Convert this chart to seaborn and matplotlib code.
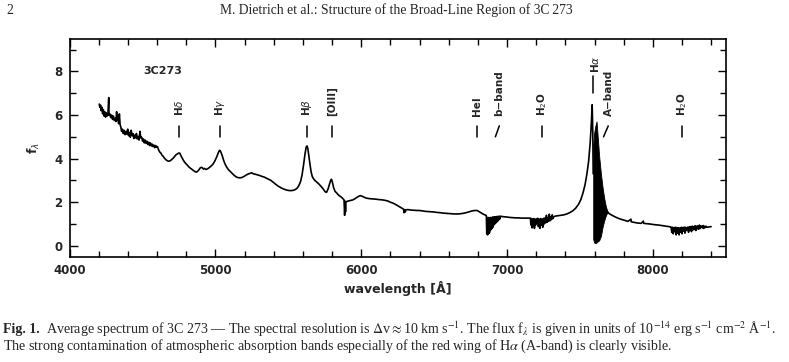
import pandas as pd
import matplotlib.pyplot as plt
import seaborn as sns
from matplotlib.ticker import MultipleLocator

# Continuum + emission lines of 3C 273 (wavelength in A, flux in 1e-14 erg/s/cm2/A)
wave = [4203, 4207, 4212, 4216, 4221, 4226, 4231, 4236, 4241, 4246, 4251, 4256, 4262, 4268, 4270,
        4276, 4282, 4288, 4294, 4300, 4306, 4312, 4318, 4322, 4326, 4331, 4336, 4341, 4346, 4351,
        4356, 4362, 4368, 4374, 4380, 4386, 4392, 4398, 4404, 4410, 4416, 4422, 4428, 4434, 4440,
        4446, 4452, 4458, 4464, 4470, 4476, 4482, 4488, 4494, 4500, 4506, 4512, 4518, 4524, 4530,
        4536, 4542, 4548, 4554, 4560, 4566, 4572, 4578, 4584, 4590, 4596, 4602, 4610, 4618, 4626,
        4634, 4642, 4650, 4660, 4670, 4680, 4690, 4700, 4710, 4720, 4730, 4740, 4750, 4756, 4762,
        4770, 4780, 4790, 4800, 4810, 4820, 4830, 4840, 4850, 4860, 4870, 4878, 4886, 4894, 4902,
        4910, 4918, 4926, 4934, 4942, 4950, 4960, 4970, 4980, 4990, 5000, 5010, 5020, 5028, 5034,
        5040, 5048, 5056, 5066, 5076, 5088, 5100, 5115, 5130, 5145, 5160, 5175, 5190, 5205, 5220,
        5235, 5248, 5260, 5275, 5290, 5305, 5320, 5335, 5350, 5365, 5380, 5395, 5410, 5425, 5440,
        5455, 5470, 5485, 5500, 5515, 5530, 5545, 5560, 5572, 5584, 5594, 5604, 5614, 5622, 5628,
        5634, 5640, 5648, 5656, 5664, 5672, 5682, 5695, 5710, 5725, 5740, 5752, 5762, 5772, 5782,
        5790, 5796, 5802, 5810, 5820, 5832, 5845, 5860, 5872, 5882, 5886, 5889, 5892, 5895, 5910,
        5925, 5940, 5955, 5970, 5985, 5995, 6010, 6025, 6040, 6060, 6080, 6100, 6120, 6140, 6160,
        6180, 6200, 6220, 6240, 6260, 6280, 6290, 6294, 6298, 6302, 6306, 6320, 6340, 6360, 6380,
        6400, 6420, 6440, 6460, 6480, 6500, 6520, 6540, 6560, 6580, 6600, 6620, 6640, 6660, 6680,
        6700, 6720, 6740, 6760, 6780, 6795, 6810, 6825, 6840, 6855, 6960, 6980, 7000, 7020, 7040,
        7060, 7080, 7100, 7120, 7140, 7155, 7330, 7350, 7370, 7390, 7410, 7430, 7450, 7470, 7490,
        7505, 7520, 7535, 7548, 7560, 7570, 7578, 7584, 7588, 7591,
        7690, 7700, 7720, 7740, 7760, 7780, 7800, 7830, 7850, 7852, 7860, 7890, 7920, 7935, 7937,
        7950, 7980, 8010, 8040, 8070, 8100, 8120, 8380, 8400]
flux = [6.50, 6.35, 6.45, 6.20, 6.35, 6.05, 6.25, 5.95, 6.15, 5.90, 6.10, 5.95, 6.00, 6.80, 5.98,
        6.05, 5.88, 6.00, 5.80, 5.95, 5.75, 5.85, 5.70, 6.15, 5.75, 5.95, 5.60, 6.05, 5.55, 5.45,
        5.25, 5.35, 5.15, 5.30, 5.10, 5.25, 5.12, 5.35, 5.05, 5.20, 4.98, 5.30, 5.05, 5.15, 4.92,
        5.08, 4.95, 5.15, 4.90, 5.02, 4.85, 5.25, 4.95, 4.98, 4.80, 4.90, 4.72, 4.85, 4.70, 4.80,
        4.65, 4.75, 4.60, 4.72, 4.58, 4.66, 4.55, 4.62, 4.50, 4.60, 4.52, 4.55, 4.40, 4.30, 4.25,
        4.15, 4.10, 4.02, 3.95, 3.90, 3.88, 3.90, 3.96, 4.02, 4.10, 4.18, 4.22, 4.26, 4.24, 4.15,
        4.05, 3.92, 3.82, 3.75, 3.68, 3.60, 3.55, 3.50, 3.45, 3.40, 3.38, 3.42, 3.48, 3.56, 3.60,
        3.58, 3.52, 3.55, 3.50, 3.52, 3.55, 3.60, 3.66, 3.72, 3.82, 3.95, 4.10, 4.28, 4.38, 4.35,
        4.25, 4.10, 3.92, 3.75, 3.62, 3.50, 3.42, 3.32, 3.22, 3.15, 3.12, 3.12, 3.16, 3.22, 3.28,
        3.32, 3.35, 3.30, 3.28, 3.25, 3.22, 3.18, 3.15, 3.10, 3.05, 3.00, 2.92, 2.84, 2.76, 2.70,
        2.64, 2.60, 2.56, 2.54, 2.53, 2.54, 2.57, 2.64, 2.76, 2.95, 3.25, 3.70, 4.20, 4.52, 4.58,
        4.45, 4.15, 3.75, 3.40, 3.18, 3.08, 3.00, 2.92, 2.83, 2.72, 2.60, 2.48, 2.45, 2.60, 2.82,
        3.00, 3.05, 2.92, 2.68, 2.50, 2.42, 2.32, 2.25, 2.18, 2.10, 1.40, 2.05, 1.55, 2.02, 2.05,
        2.08, 2.10, 2.15, 2.22, 2.28, 2.30, 2.26, 2.21, 2.18, 2.16, 2.15, 2.14, 2.12, 2.11, 2.09,
        2.06, 2.00, 1.95, 1.88, 1.80, 1.72, 1.68, 1.52, 1.66, 1.55, 1.65, 1.66, 1.64, 1.63, 1.62,
        1.62, 1.60, 1.58, 1.57, 1.56, 1.55, 1.53, 1.52, 1.50, 1.49, 1.48, 1.47, 1.46, 1.46, 1.47,
        1.49, 1.52, 1.56, 1.60, 1.62, 1.62, 1.56, 1.50, 1.44, 1.40, 1.35, 1.33, 1.32, 1.30, 1.29,
        1.28, 1.28, 1.27, 1.27, 1.27, 1.27, 1.36, 1.38, 1.40, 1.42, 1.46, 1.52, 1.60, 1.72, 1.90,
        2.10, 2.40, 2.80, 3.30, 3.90, 4.70, 5.60, 6.47, 5.20, 3.30,
        1.55, 1.48, 1.40, 1.33, 1.27, 1.22, 1.18, 1.12, 1.22, 1.10, 1.09, 1.05, 1.03, 1.13, 1.03,
        1.02, 1.00, 0.97, 0.95, 0.92, 0.89, 0.87, 0.86, 0.88]

# telluric absorption bands (B-band, H2O, H2O)
bband_wave = [6858, 6861, 6864, 6867, 6870, 6873, 6876, 6879, 6882, 6885, 6888, 6891, 6894, 6897,
              6900, 6903, 6906, 6909, 6912, 6916, 6920, 6924, 6928, 6932, 6936, 6940, 6945, 6950, 6955]
bband_flux = [1.38, 0.55, 1.30, 0.50, 1.25, 0.60, 1.30, 0.58, 1.25, 0.70, 1.30, 0.75, 1.28, 0.80,
              1.32, 0.85, 1.30, 0.95, 1.33, 1.00, 1.32, 1.05, 1.34, 1.10, 1.35, 1.15, 1.36, 1.22, 1.36]
h2o_a_wave = [7160, 7164, 7168, 7172, 7176, 7180, 7184, 7188, 7192, 7196, 7200, 7205, 7210, 7215,
              7220, 7225, 7230, 7235, 7240, 7245, 7250, 7255, 7260, 7265, 7270, 7275, 7280, 7285,
              7290, 7295, 7300, 7305, 7310, 7315, 7320]
h2o_a_flux = [1.27, 0.95, 1.25, 0.82, 1.22, 0.90, 1.25, 0.80, 1.20, 0.95, 1.24, 1.05, 1.26, 0.88,
              1.22, 0.80, 1.25, 0.95, 1.22, 0.85, 1.26, 1.00, 1.28, 1.05, 1.40, 1.08, 1.30, 1.12,
              1.45, 1.15, 1.32, 1.20, 1.42, 1.25, 1.33]
h2o_b_wave = [8125, 8130, 8135, 8140, 8145, 8150, 8155, 8160, 8165, 8170, 8175, 8180, 8185, 8190,
              8195, 8200, 8205, 8210, 8215, 8220, 8225, 8230, 8240, 8245, 8250, 8255, 8260, 8265,
              8270, 8275, 8280, 8285, 8290, 8295, 8300, 8305, 8310, 8315, 8320, 8325, 8330, 8340,
              8345, 8350, 8355, 8360, 8365, 8370]
h2o_b_flux = [0.86, 0.62, 0.85, 0.55, 0.84, 0.65, 0.85, 0.50, 0.84, 0.58, 0.83, 0.50, 0.82, 0.62,
              0.85, 0.55, 0.84, 0.68, 0.86, 0.58, 0.85, 0.70, 0.86, 0.62, 0.87, 0.72, 0.88, 0.65,
              0.90, 0.72, 0.88, 0.75, 0.92, 0.70, 0.90, 0.78, 0.92, 0.76, 0.95, 0.80, 0.92, 0.82,
              0.93, 0.80, 0.90, 0.84, 0.90, 0.85]

# A-band on the red wing of H-alpha: upper / lower envelope of the dense absorption
aband_wave = [7591, 7598, 7606, 7614, 7622, 7632, 7644, 7655, 7666, 7678, 7690]
aband_top = [4.60, 5.20, 5.50, 5.70, 5.00, 4.10, 3.30, 2.70, 2.20, 1.80, 1.55]
aband_bot = [0.30, 0.15, 0.12, 0.15, 0.20, 0.25, 0.45, 0.85, 1.15, 1.40, 1.55]

# line identifications
line_names = [r'H$\delta$', r'H$\gamma$', r'H$\beta$', '[OIII]', 'HeI', 'H$_2$O', 'H$_2$O']
line_wave = [4751, 5030, 5626, 5799, 6795, 7240, 8198]
band_names = ['b\u2212band', 'A\u2212band']
band_wave = [6947, 7701]

sns.set_theme(style='ticks')
plt.rcParams['font.family'] = ['DejaVu Sans']
plt.rcParams['mathtext.fontset'] = 'dejavusans'

fig = plt.figure(figsize=(7.89, 3.62), dpi=100)
ax = fig.add_axes([0.0883, 0.2909, 0.8315, 0.6022])

spec = pd.DataFrame({'wave': wave + bband_wave + h2o_a_wave + h2o_b_wave,
                     'flux': flux + bband_flux + h2o_a_flux + h2o_b_flux})
spec = spec.sort_values('wave')
# H-alpha / A-band gap is filled separately
part1 = spec[spec['wave'] <= 7591]
part2 = spec[spec['wave'] >= 7690]
sns.lineplot(data=part1, x='wave', y='flux', ax=ax, color='black', lw=1.2, sort=False)
sns.lineplot(data=part2, x='wave', y='flux', ax=ax, color='black', lw=1.2, sort=False)
ax.fill_between(aband_wave, aband_bot, aband_top, color='black', lw=0.6)

# identification ticks and labels
lab_kw = dict(rotation=90, ha='center', va='bottom', fontsize=7.5, fontweight='bold')
for name, w in zip(line_names, line_wave):
    ax.plot([w, w], [5.0, 5.5], color='black', lw=1.1)
    ax.text(w, 5.95, name, **lab_kw)
ax.plot([6920, 6947], [5.0, 5.5], color='black', lw=1.1)
ax.text(band_wave[0], 5.95, band_names[0], **lab_kw)
ax.plot([7662, 7694], [5.0, 5.5], color='black', lw=1.1)
ax.text(band_wave[1], 5.95, band_names[1], **lab_kw)
ax.plot([7592, 7592], [7.0, 7.8], color='black', lw=1.1)
ax.text(7603, 7.93, r'H$\alpha$', **lab_kw)
ax.text(4505, 8.0, '3C273', fontsize=8, fontweight='bold', va='center')

ax.set_xlim(4000, 8500)
ax.set_ylim(-0.5, 9.5)
ax.xaxis.set_major_locator(MultipleLocator(1000))
ax.xaxis.set_minor_locator(MultipleLocator(200))
ax.yaxis.set_major_locator(MultipleLocator(2))
ax.yaxis.set_minor_locator(MultipleLocator(1))
ax.tick_params(which='both', direction='in', top=True, right=True, width=1.0, color='black')
ax.tick_params(which='major', length=6)
ax.tick_params(which='minor', length=4)
ax.tick_params(axis='x', pad=5, labelsize=8.5)
ax.tick_params(axis='y', pad=5, labelsize=8.5)
for lab in ax.get_xticklabels() + ax.get_yticklabels():
    lab.set_fontweight('bold')
for sp in ax.spines.values():
    sp.set_linewidth(1.2)
    sp.set_color('black')

ax.set_xlabel('wavelength [\u00c5]', fontsize=9, fontweight='bold', labelpad=3)
ax.set_ylabel(r'$\mathbf{f}_\lambda$', fontsize=9, labelpad=9)

# page header and caption
serif = ['Liberation Serif', 'DejaVu Serif']
fig.text(6 / 789, 1 - 10 / 362, '2', family=serif, fontsize=9.8, va='center')
fig.text(396 / 789, 1 - 10 / 362, 'M. Dietrich et al.: Structure of the Broad-Line Region of 3C\u2009273',
         family=serif, fontsize=9.8, va='center', ha='center')
plt.rcParams['mathtext.fontset'] = 'stix'
fig.text(3 / 789, 1 - 329 / 362, 'Fig. 1.', family=serif, fontsize=10, fontweight='bold', va='center')
fig.text(46 / 789, 1 - 329 / 362,
         'Average spectrum of 3C\u2009273 \u2014 The spectral resolution is $\\Delta$v$\\approx$10 km\u2009s$^{-1}$. '
         'The flux f$_\\lambda$ is given in units of 10$^{-14}$ erg\u2009s$^{-1}$ cm$^{-2}$ \u00c5$^{-1}$.',
         family=serif, fontsize=10.1, va='center')
fig.text(3 / 789, 1 - 346 / 362,
         'The strong contamination of atmospheric absorption bands especially of the red wing of '
         'H$\\alpha$ (A-band) is clearly visible.',
         family=serif, fontsize=10.1, va='center')

fig.savefig('out.png', dpi=100, facecolor='white')
